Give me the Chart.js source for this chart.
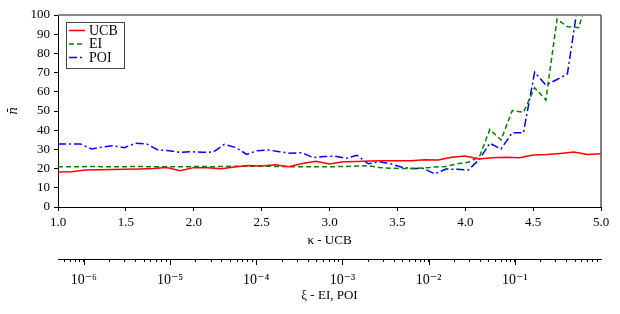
<!DOCTYPE html>
<html>
<head>
<meta charset="utf-8">
<script src="https://cdn.jsdelivr.net/npm/chart.js@4.4.1/dist/chart.umd.min.js"></script>
<style>
  html, body { margin: 0; padding: 0; background: #fff; }
</style>
</head>
<body>
<canvas id="chart" width="620" height="314"></canvas>
<script>
// kappa grid for UCB
const kappa = [1.0, 1.1, 1.2, 1.3, 1.4, 1.5, 1.6, 1.7, 1.8, 1.9,
  2.0, 2.1, 2.2, 2.3, 2.4, 2.5, 2.6, 2.7, 2.8, 2.9,
  3.0, 3.1, 3.2, 3.3, 3.4, 3.5, 3.6, 3.7, 3.8, 3.9,
  4.0, 4.1, 4.2, 4.3, 4.4, 4.5, 4.6, 4.7, 4.8, 4.9, 5.0];
const ucb = [18.2, 18.3, 19.3, 19.4, 19.5, 19.7, 19.8, 20.0, 20.6, 18.9,
  20.5, 20.4, 19.9, 20.8, 21.6, 21.4, 22.0, 21.0, 22.6, 23.8,
  22.4, 23.6, 23.7, 23.9, 24.1, 24.1, 24.1, 24.6, 24.5, 25.9,
  26.5, 25.0, 25.7, 25.9, 25.7, 27.1, 27.3, 27.9, 28.6, 27.4, 27.8];

// log10(xi) grid for EI and POI
const xiExp = [-6.30, -6.17, -6.04, -5.91, -5.79, -5.66, -5.53, -5.40, -5.27, -5.14,
  -5.01, -4.89, -4.76, -4.63, -4.50, -4.37, -4.24, -4.11, -3.99, -3.86,
  -3.73, -3.60, -3.47, -3.34, -3.21, -3.09, -2.96, -2.83, -2.70, -2.57,
  -2.44, -2.31, -2.19, -2.06, -1.93, -1.80, -1.67, -1.54, -1.41, -1.29,
  -1.16, -1.03, -0.90, -0.77, -0.64, -0.51, -0.39, -0.26, -0.13, 0.00];
const ei = [21.0, 21.0, 21.0, 21.1, 21.0, 21.0, 21.0, 21.1, 21.0, 21.0,
  21.0, 21.0, 21.0, 21.1, 21.0, 21.1, 21.2, 21.2, 21.3, 21.2,
  21.1, 21.0, 21.0, 21.0, 21.0, 21.0, 21.1, 21.3, 21.5, 20.6,
  20.2, 20.0, 20.0, 20.3, 20.8, 21.1, 22.5, 23.3, 26.2, 40.4,
  34.9, 50.2, 49.3, 62.1, 55.7, 97.9, 93.9, 93.4, 112, 125];
const poi = [32.8, 32.8, 32.8, 30.2, 31.2, 31.9, 30.9, 33.2, 32.8, 29.7,
  29.3, 28.5, 28.8, 28.5, 28.6, 32.6, 31.0, 27.4, 29.3, 29.7,
  28.8, 28.0, 28.3, 25.7, 26.3, 26.5, 25.3, 26.9, 22.5, 23.6,
  22.5, 20.7, 20.1, 20.1, 17.2, 19.8, 19.6, 19.3, 24.8, 33.2,
  30.2, 38.7, 38.7, 70.2, 63.5, 66.4, 69.3, 108, 125, 140];

const xiMinExp = -6.3;
const xiMaxExp = 0;
const xiLabelExp = [-6, -5, -4, -3, -2, -1];

Chart.defaults.font.family = '"Liberation Serif", "DejaVu Serif", serif';
Chart.defaults.font.size = 13;
Chart.defaults.color = '#000';

const sup = { '-': '\u207B', '0': '\u2070', '1': '\u00B9', '2': '\u00B2', '3': '\u00B3',
  '4': '\u2074', '5': '\u2075', '6': '\u2076', '7': '\u2077', '8': '\u2078', '9': '\u2079' };
const powLabel = (e) => '10' + String(e).split('').map(c => sup[c]).join('');

// top/right spines, longer major ticks on the xi axis, boxed legend
const frameAndLegend = {
  id: 'frameAndLegend',
  afterDraw(chart) {
    const ctx = chart.ctx;
    const a = chart.chartArea;
    ctx.save();
    ctx.strokeStyle = '#888';
    ctx.lineWidth = 2;
    ctx.beginPath();
    ctx.moveTo(a.left, a.top);
    ctx.lineTo(a.right, a.top);
    ctx.stroke();
    ctx.strokeStyle = '#555';
    ctx.lineWidth = 1.5;
    ctx.beginPath();
    ctx.moveTo(a.right, a.top);
    ctx.lineTo(a.right, a.bottom);
    ctx.stroke();

    const xi = chart.scales.xi;
    ctx.strokeStyle = '#000';
    ctx.lineWidth = 1;
    xiLabelExp.forEach((e) => {
      const px = Math.round(xi.getPixelForValue(Math.pow(10, e))) + 0.5;
      ctx.beginPath();
      ctx.moveTo(px, xi.top);
      ctx.lineTo(px, xi.top + 6);
      ctx.stroke();
    });

    const x0 = a.left + 8, y0 = a.top + 7;
    ctx.fillStyle = '#fff';
    ctx.fillRect(x0, y0, 58, 46);
    ctx.strokeStyle = '#444';
    ctx.lineWidth = 1;
    ctx.strokeRect(x0 + 0.5, y0 + 0.5, 58, 46);
    chart.data.datasets.forEach((ds, i) => {
      const y = y0 + 8.5 + i * 13.5;
      ctx.strokeStyle = ds.borderColor;
      ctx.lineWidth = ds.borderWidth;
      ctx.setLineDash(ds.borderDash || []);
      ctx.beginPath();
      ctx.moveTo(x0 + 3, y);
      ctx.lineTo(x0 + 19, y);
      ctx.stroke();
      ctx.setLineDash([]);
      ctx.fillStyle = '#000';
      ctx.font = '14px "Liberation Serif", serif';
      ctx.textBaseline = 'middle';
      ctx.fillText(ds.label, x0 + 23, y + 0.5);
    });
    ctx.restore();
  }
};

new Chart(document.getElementById('chart'), {
  type: 'line',
  data: {
    datasets: [
      {
        label: 'UCB',
        data: kappa.map((k, i) => ({ x: k, y: ucb[i] })),
        xAxisID: 'x',
        borderColor: '#ff0000',
        borderWidth: 1.5,
        pointRadius: 0,
        tension: 0,
      },
      {
        label: 'EI',
        data: xiExp.map((e, i) => ({ x: Math.pow(10, e), y: ei[i] })),
        xAxisID: 'xi',
        borderColor: '#008000',
        borderWidth: 1.5,
        borderDash: [5, 3],
        pointRadius: 0,
        tension: 0,
      },
      {
        label: 'POI',
        data: xiExp.map((e, i) => ({ x: Math.pow(10, e), y: poi[i] })),
        xAxisID: 'xi',
        borderColor: '#0000ff',
        borderWidth: 1.5,
        borderDash: [8, 3, 2, 3],
        pointRadius: 0,
        tension: 0,
      },
    ],
  },
  options: {
    responsive: false,
    animation: false,
    layout: { padding: { left: 0, right: 19, top: 15, bottom: 0 } },
    plugins: { legend: { display: false }, tooltip: { enabled: false } },
    scales: {
      x: {
        type: 'linear',
        position: 'bottom',
        weight: 0,
        min: 1,
        max: 5,
        ticks: { stepSize: 0.5, padding: 4, maxRotation: 0, callback: (v) => v.toFixed(1) },
        grid: { drawOnChartArea: false, tickLength: 4, color: '#000' },
        border: { display: true, color: '#000' },
        title: { display: true, text: '\u03BA - UCB', padding: { top: 0, bottom: 11 } },
        afterFit: (s) => { s.height = 52; },
      },
      xi: {
        type: 'logarithmic',
        position: 'bottom',
        weight: 1,
        min: Math.pow(10, xiMinExp),
        max: Math.pow(10, xiMaxExp),
        afterBuildTicks: (s) => {
          const ticks = [];
          for (let e = -7; e <= -1; e++) {
            for (let m = 1; m <= 9; m++) {
              const v = m * Math.pow(10, e);
              if (v >= s.min && v < s.max) ticks.push({ value: v, major: m === 1 });
            }
          }
          s.ticks = ticks;
        },
        ticks: {
          autoSkip: false,
          maxRotation: 0,
          padding: 10,
          font: { size: 14 },
          callback: (v) => {
            const e = Math.round(Math.log10(v));
            return Math.abs(v - Math.pow(10, e)) < 1e-12 ? powLabel(e) : '';
          },
        },
        grid: { drawOnChartArea: false, tickLength: 3, color: '#000' },
        border: { display: true, color: '#000' },
        title: { display: true, text: '\u03BE - EI, POI', padding: { top: 0, bottom: 11 } },
        afterFit: (s) => { s.height = 55; },
      },
      y: {
        min: 0,
        max: 100,
        ticks: { stepSize: 10, padding: 4 },
        grid: { drawOnChartArea: false, tickLength: 4, color: '#000' },
        border: { display: true, color: '#000' },
        title: {
          display: true,
          text: 'n\u0304',
          font: { family: '"DejaVu Serif", serif', style: 'italic', size: 12 },
          padding: { top: 7, bottom: 0 },
        },
        afterFit: (s) => { s.width = 58; },
      },
    },
  },
  plugins: [frameAndLegend],
});
</script>
</body>
</html>
